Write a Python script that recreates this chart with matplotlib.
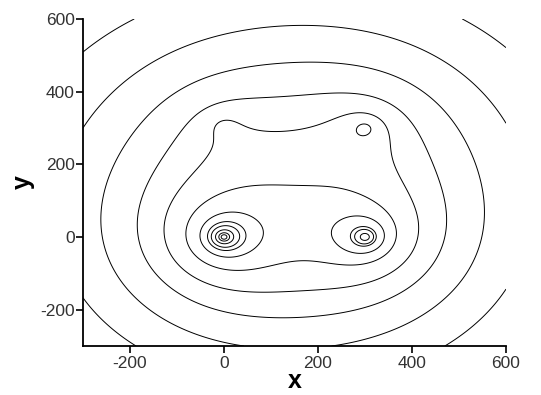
import numpy as np
import matplotlib.pyplot as plt

plt.rcParams["font.family"] = ["Liberation Sans", "DejaVu Sans"]
plt.rcParams["axes.unicode_minus"] = False

# line sources of the field: position, strength, core radius
src_x = [0, 300, 300, 0]
src_y = [0, 0, 300, 305]
src_q = [2.2, 1.8, 0.95, 0.6]
src_d = [1.0, 1.0, 15.0, 18.0]

outer_x = [-300, -300, -262, -184, -125, -81]
outer_y = [509, 300, 45, 50, 50, 5]
ringA_x = [-51, -35, -27, -18, -11, -6]
ringB_x = [230, 269, 278, 290]
circle_x, circle_y = 298, 311
circle_c = (298, 296)

xticks = [-200, 0, 200, 400, 600]
yticks = [-200, 0, 200, 400, 600]


def field(x, y):
    v = 0.0
    for sx, sy, q, d in zip(src_x, src_y, src_q, src_d):
        v = v + 0.5 * q * np.log((x - sx) ** 2 + (y - sy) ** 2 + d ** 2)
    return v


gx = np.linspace(-300, 600, 901)
gy = np.linspace(-300, 600, 901)
X, Y = np.meshgrid(gx, gy)
V = field(X, Y)

lev_outer = sorted(field(np.array(outer_x, float), np.array(outer_y, float)))
lev_a = sorted(field(np.array(ringA_x, float), 0.0))
lev_b = sorted(field(np.array(ringB_x, float), 0.0))
lev_c = [field(circle_x, circle_y)]

win = (np.abs(X - circle_c[0]) < 28) & (np.abs(Y - circle_c[1]) < 28)

fig = plt.figure(figsize=(5.41, 3.95), dpi=100)
ax = fig.add_axes([0.1534, 0.124, 0.7819, 0.828])

kw = dict(colors="black", linewidths=0.7)
ax.contour(X, Y, np.ma.masked_where(win, V), levels=lev_outer, **kw)
ax.contour(X, Y, np.ma.masked_where(X > 160, V), levels=lev_a, **kw)
ax.contour(X, Y, np.ma.masked_where(X <= 160, V), levels=lev_b, **kw)
ax.contour(X, Y, np.ma.masked_where(~win, V), levels=lev_c, **kw)

ax.set_xlim(-300, 600)
ax.set_ylim(-300, 600)
ax.set_xticks(xticks)
ax.set_yticks(yticks)
ax.spines["top"].set_visible(False)
ax.spines["right"].set_visible(False)
for s in ["left", "bottom"]:
    ax.spines[s].set_linewidth(1.3)
ax.tick_params(direction="out", length=5, width=1.2, labelsize=12.5,
               labelcolor="#333333")
ax.tick_params(axis="y", pad=1)
ax.tick_params(axis="x", pad=2)

ax.set_xlabel("x", fontsize=18, fontweight="bold", labelpad=-1)
ax.set_ylabel("y", fontsize=18, fontweight="bold", labelpad=4)

fig.savefig("out.png", dpi=100)
